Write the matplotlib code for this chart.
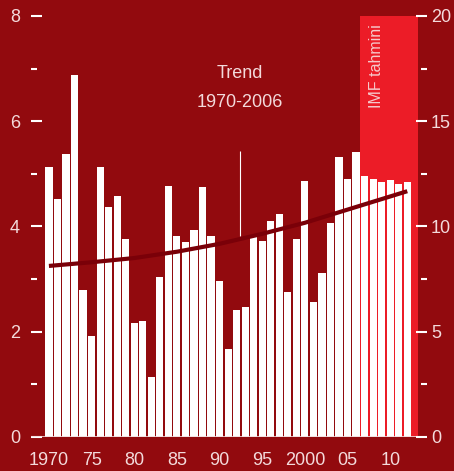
import matplotlib
matplotlib.use("Agg")
import matplotlib.pyplot as plt
from matplotlib.ticker import MultipleLocator

years = list(range(1970, 2013))
growth = [5.13, 4.52, 5.38, 6.88, 2.79, 1.92, 5.13, 4.37, 4.58, 3.76,
          2.17, 2.20, 1.14, 3.04, 4.77, 3.82, 3.71, 3.94, 4.75, 3.82,
          2.97, 1.67, 2.41, 2.47, 3.82, 3.73, 4.11, 4.24, 2.76, 3.76,
          4.87, 2.57, 3.12, 4.07, 5.32, 4.90, 5.42, 4.96, 4.90, 4.85,
          4.89, 4.81, 4.85]

trend_years = [1970, 1975, 1980, 1985, 1990, 1995, 2000, 2005, 2010, 2012]
trend_values = [3.25, 3.32, 3.40, 3.52, 3.67, 3.86, 4.07, 4.32, 4.57, 4.67]

xtick_years = [1970, 1975, 1980, 1985, 1990, 1995, 2000, 2005, 2010]
xtick_labels = ["1970", "75", "80", "85", "90", "95", "2000", "05", "10"]

forecast_start, forecast_end = 2006.5, 2013.2
trend_marker_year = 1992.4
trend_marker_range = (3.82, 5.43)

BG = "#920A0E"
FORECAST = "#EC1C27"
TREND = "#7A0008"
TEXT = "#F3DADB"

plt.rcParams["font.family"] = ["Liberation Sans", "DejaVu Sans"]

fig = plt.figure(figsize=(4.54, 4.71), dpi=100, facecolor=BG)
ax = fig.add_axes([0.0683, 0.0722, 0.872, 0.894], facecolor=BG)

ax.axvspan(forecast_start, forecast_end, color=FORECAST, lw=0, zorder=0)
ax.bar(years, growth, width=0.84, color="white", zorder=2)
ax.axhline(0, color=TEXT, lw=1.2, zorder=3)
ax.plot(trend_years, trend_values, color=TREND, lw=3, zorder=4,
        solid_capstyle="butt")
ax.vlines(trend_marker_year, *trend_marker_range, color="white", lw=0.8, zorder=3)

ax.text(1992.4, 6.9, "Trend", ha="center", va="center", color=TEXT, fontsize=13)
ax.text(1992.4, 6.35, "1970-2006", ha="center", va="center", color=TEXT, fontsize=13)
ax.text(2008.4, 7.85, "IMF tahmini", rotation=90, ha="center", va="top",
        color="#F6C9CB", fontsize=11.5)

ax.set_xlim(1967.9, 2014.3)
ax.set_ylim(0, 8)
for s in ax.spines.values():
    s.set_visible(False)

ax.set_xticks(xtick_years)
ax.set_xticklabels(xtick_labels)
ax.tick_params(axis="x", length=0, pad=11, labelsize=13, labelcolor=TEXT)

ax.yaxis.set_major_locator(MultipleLocator(2))
ax.yaxis.set_minor_locator(MultipleLocator(1))
ax.tick_params(axis="y", which="major", direction="in", length=8, width=1.5,
               color="white", pad=8, labelsize=13, labelcolor=TEXT)
ax.tick_params(axis="y", which="minor", direction="in", length=4.5, width=1.5,
               color="white")

ax2 = ax.twinx()
ax2.set_ylim(0, 20)
for s in ax2.spines.values():
    s.set_visible(False)
ax2.yaxis.set_major_locator(MultipleLocator(5))
ax2.yaxis.set_minor_locator(MultipleLocator(2.5))
ax2.tick_params(axis="y", which="major", direction="in", length=8, width=1.5,
                color="white", pad=3, labelsize=13, labelcolor=TEXT)
ax2.tick_params(axis="y", which="minor", direction="in", length=4.5, width=1.5,
                color="white")

fig.savefig("out.png", dpi=100, facecolor=BG)
